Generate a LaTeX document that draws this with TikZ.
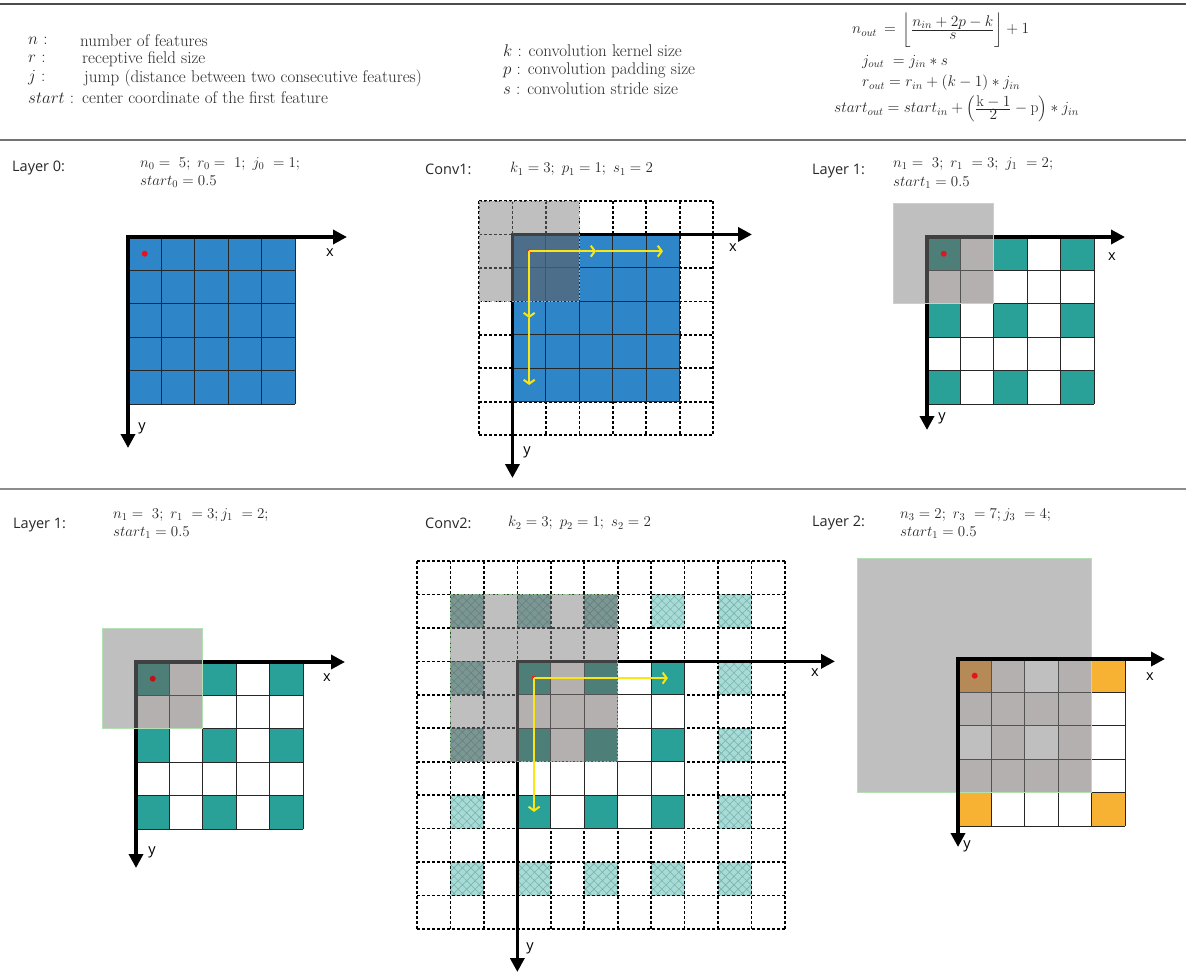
\RequirePackage{fix-cm}
\documentclass[tikz,border=0pt]{standalone}
\usepackage{amsmath}
\usepackage{fontspec}
\newfontfamily\osans{Open Sans}
\usetikzlibrary{arrows.meta,patterns.meta}
\definecolor{blueC}{RGB}{46,134,200}
\definecolor{blueU}{RGB}{24,92,152}
\definecolor{tealC}{RGB}{42,161,152}
\definecolor{tealU}{RGB}{26,126,112}
\definecolor{pinkU}{RGB}{234,226,226}
\definecolor{orangeC}{RGB}{247,178,51}
\definecolor{orangeU}{RGB}{238,150,46}
\definecolor{hatchC}{RGB}{168,218,214}
\definecolor{hatchU}{RGB}{116,176,168}
\definecolor{hatchL}{RGB}{120,180,175}
\definecolor{yel}{RGB}{250,230,20}
\definecolor{dotred}{RGB}{228,20,30}
\definecolor{txt}{RGB}{40,40,40}
\definecolor{greenB}{RGB}{180,222,180}
\definecolor{greenD}{RGB}{140,190,140}
\def\cw{33.45}
\newcommand\cfr[2]{\frac{\displaystyle #1}{\displaystyle #2}}
\begin{document}
\begin{tikzpicture}[x=1pt,y=-1pt,
  hdr/.style={inner sep=0pt, anchor=west, text=txt, font=\fontsize{17}{19}\selectfont},
  frm/.style={inner sep=0pt, anchor=west, text=txt, font=\fontsize{15.5}{17}\selectfont},
  par/.style={inner sep=0pt, anchor=west, text=txt, font=\fontsize{15}{17}\selectfont},
  lab/.style={inner sep=0pt, anchor=west, text=txt, font=\osans\fontsize{14.5}{16}\selectfont},
  axlab/.style={inner sep=0pt, text=black, font=\osans\fontsize{14.5}{16}\selectfont},
  axis/.style={line width=3.5pt, line join=miter, {Triangle[length=14pt,width=14pt]}-{Triangle[length=14pt,width=14pt]}},
  cellgrid/.style={line width=1.1pt, black!85},
  dgrid/.style={line width=1.7pt, black, dash pattern=on 3pt off 2pt},
  grayov/.style={fill=black!50, fill opacity=0.5, draw=greenB, line width=1pt},
  grayovd/.style={grayov, draw=greenD, dash pattern=on 2pt off 1.6pt},
  yarrow/.style={yel, line width=2pt, -{Straight Barb[length=4pt,width=11pt]}},
  rule/.style={line width=1.6pt}
]
\fill[white] (0,0) rectangle (1186,974);
\useasboundingbox (0,0) rectangle (1186,974);

% ---------- rules
\draw[rule, black!70] (0,4) -- (1186,4);
\draw[rule, black!55] (0,140) -- (1186,140);
\draw[rule, black!45] (0,489) -- (1186,489);

% ---------- header: definitions
\node[hdr] (hn)  at (28,41) {$n$ :};
\node[hdr] (hnt) at (80,41) {number of features};
\node[hdr] (hr)  at (28,59) {$r$ :};
\node[hdr] (hrt) at (82,59) {receptive field size};
\node[hdr] (hj)  at (28,78) {$j$ :};
\node[hdr] (hjt) at (84,78) {jump (distance between two consecutive features)};
\node[hdr] (hs)  at (28,98) {$start$ :};
\node[hdr] (hst) at (82,98) {center coordinate of the first feature};

\node[hdr] (hk) at (503,51) {$k$ : convolution kernel size};
\node[hdr] (hp) at (503,70) {$p$ : convolution padding size};
\node[hdr] (hss) at (503,89) {$s$ : convolution stride size};

\node[frm] (f1) at (852,30) {$n_{out}\,=\,\left\lfloor\cfr{n_{in}+2p-k}{s}\right\rfloor+1$};
\node[frm] (f2) at (862,62) {$j_{out}\;=j_{in}*s$};
\node[frm] (f3) at (862,83) {$r_{out}=r_{in}+(k-1)*j_{in}$};
\node[frm] (f4) at (834,109) {$start_{out}=start_{in}+\left(\cfr{\mathrm{k}-1}{2}-\mathrm{p}\right)*j_{in}$};

% ---------- panel labels
\node[lab] (L0) at (12,168) {Layer 0:};
\node[par] (L0a) at (140,164) {$n_0 =\ 5;\ r_0 =\ 1;\ j_0\ = 1;$};
\node[par] (L0b) at (140,182) {$start_0 = 0.5$};

\node[lab] (C1) at (425,169) {Conv1:};
\node[par] (C1a) at (510,169) {$k_1 = 3;\ p_1 = 1;\ s_1 = 2$};

\node[lab] (L1) at (812,171) {Layer 1:};
\node[par] (L1a) at (893,164) {$n_1 =\ 3;\ r_1\ = 3;\ j_1\ = 2;$};
\node[par] (L1b) at (893,183) {$start_1 = 0.5$};

\node[lab] (L1x) at (13,525) {Layer 1:};
\node[par] (L1xa) at (113,515) {$n_1 =\ 3;\ r_1\ = 3; j_1\ = 2;$};
\node[par] (L1xb) at (113,533) {$start_1 = 0.5$};

\node[lab] (C2) at (425,523) {Conv2:};
\node[par] (C2a) at (508,523) {$k_2 = 3;\ p_2 = 1;\ s_2 = 2$};

\node[lab] (L2) at (812,523) {Layer 2:};
\node[par] (L2a) at (900,515) {$n_3 = 2;\ r_3\ = 7; j_3\ = 4;$};
\node[par] (L2b) at (900,533) {$start_1 = 0.5$};

% ================= Layer 0
\begin{scope}[shift={(128,237)}]
  \fill[blueC] (0,0) rectangle (5*\cw,5*\cw);
  \foreach \i in {0,...,5}{
    \draw[cellgrid] (\i*\cw,0) -- (\i*\cw,5*\cw);
    \draw[cellgrid] (0,\i*\cw) -- (5*\cw,\i*\cw);}
  \draw[axis] (0,211) -- (0,0) -- (219,0);
  \fill[dotred] (0.5*\cw,0.5*\cw) circle[radius=3pt];
\end{scope}
\node[axlab] (x0) at (330,253) {x};
\node[axlab] (y0) at (142,428) {y};

% ================= Conv1
\begin{scope}[shift={(479,201)}]
  \foreach \i in {0,...,7}{
    \draw[dgrid] (\i*\cw,0) -- (\i*\cw,7*\cw);
    \draw[dgrid] (0,\i*\cw) -- (7*\cw,\i*\cw);}
  \fill[blueC] (\cw,\cw) rectangle (6*\cw,6*\cw);
  \fill[blueU] (\cw,\cw) rectangle (3*\cw,3*\cw);
  \foreach \i in {1,...,6}{
    \draw[cellgrid] (\i*\cw,\cw) -- (\i*\cw,6*\cw);
    \draw[cellgrid] (\cw,\i*\cw) -- (6*\cw,\i*\cw);}
  \draw[axis] (\cw,277) -- (\cw,\cw) -- (273,\cw);
  \draw[grayovd] (0,0) rectangle (3*\cw,3*\cw);
  \fill[dotred!80!orange] (1.5*\cw,1.5*\cw) circle[radius=2.5pt];
  \coordinate (c1s) at (1.5*\cw,1.5*\cw);
  \coordinate (c1m) at (3.5*\cw,1.5*\cw);
  \coordinate (c1e) at (5.5*\cw,1.5*\cw);
  \coordinate (c1n) at (1.5*\cw,3.5*\cw);
  \coordinate (c1d) at (1.5*\cw,5.5*\cw);
  \draw[yarrow] (c1s) -- (c1m);
  \draw[yarrow] (c1m) -- (c1e);
  \draw[yarrow] (c1s) -- (c1n);
  \draw[yarrow] (c1n) -- (c1d);
\end{scope}
\node[axlab] (x1) at (733,248) {x};
\node[axlab] (y1) at (527,452) {y};

% ================= Layer 1 (top)
\def\layerone{%
  \foreach \rr in {0,2,4}{\foreach \qq in {0,2,4}{
    \fill[tealC] (\qq*\cw,\rr*\cw) rectangle ++(\cw,\cw);}}
  \fill[tealU] (0,0) rectangle ++(\cw,\cw);
  \fill[pinkU] (\cw,0) rectangle ++(\cw,\cw);
  \fill[pinkU] (0,\cw) rectangle ++(\cw,\cw);
  \fill[pinkU] (\cw,\cw) rectangle ++(\cw,\cw);
  \foreach \i in {0,...,5}{
    \draw[cellgrid] (\i*\cw,0) -- (\i*\cw,5*\cw);
    \draw[cellgrid] (0,\i*\cw) -- (5*\cw,\i*\cw);}
}
\begin{scope}[shift={(927,237)}]
  \layerone
  \draw[axis] (0,193) -- (0,0) -- (198,0);
  \draw[grayov] (-\cw,-\cw) rectangle (2*\cw,2*\cw);
  \fill[dotred] (0.5*\cw,0.5*\cw) circle[radius=3pt];
\end{scope}
\node[axlab] (x2) at (1112,257) {x};
\node[axlab] (y2) at (942,418) {y};

% ================= Layer 1 (bottom)
\begin{scope}[shift={(136,662)}]
  \layerone
  \draw[axis] (0,206) -- (0,0) -- (209,0);
  \draw[grayov] (-\cw,-\cw) rectangle (2*\cw,2*\cw);
  \fill[dotred!85!black] (0.5*\cw,0.5*\cw) circle[radius=3pt];
\end{scope}
\node[axlab] (x3) at (327,678) {x};
\node[axlab] (y3) at (152,852) {y};

% ================= Conv2
\begin{scope}[shift={(417,561)}]
  \foreach \qq/\rr in {7/1,9/1,9/3,9/5,9/7,1/7,1/9,3/9,5/9,7/9,9/9}{
    \fill[hatchC] (\qq*\cw,\rr*\cw) rectangle ++(\cw,\cw);
    \fill[pattern={Hatch[angle=45,distance=6pt,line width=0.6pt]}, pattern color=hatchL] (\qq*\cw,\rr*\cw) rectangle ++(\cw,\cw);}
  \foreach \qq/\rr in {1/1,3/1,5/1,1/3,1/5}{
    \fill[hatchU] (\qq*\cw,\rr*\cw) rectangle ++(\cw,\cw);
    \fill[pattern={Hatch[angle=45,distance=6pt,line width=0.6pt]}, pattern color=hatchL!70!black] (\qq*\cw,\rr*\cw) rectangle ++(\cw,\cw);}
  \foreach \i in {0,...,11}{
    \draw[dgrid] (\i*\cw,0) -- (\i*\cw,11*\cw);
    \draw[dgrid] (0,\i*\cw) -- (11*\cw,\i*\cw);}
  \fill[white] (3*\cw,3*\cw) rectangle (8*\cw,8*\cw);
  \foreach \rr in {3,5,7}{\foreach \qq in {3,5,7}{
    \fill[tealC] (\qq*\cw,\rr*\cw) rectangle ++(\cw,\cw);}}
  \foreach \qq/\rr in {3/3,5/3,3/5,5/5}{
    \fill[tealU] (\qq*\cw,\rr*\cw) rectangle ++(\cw,\cw);}
  \foreach \qq/\rr in {4/3,3/4,4/4,5/4,4/5}{
    \fill[pinkU] (\qq*\cw,\rr*\cw) rectangle ++(\cw,\cw);}
  \foreach \i in {3,...,8}{
    \draw[cellgrid] (\i*\cw,3*\cw) -- (\i*\cw,8*\cw);
    \draw[cellgrid] (3*\cw,\i*\cw) -- (8*\cw,\i*\cw);}
  \draw[axis] (3*\cw,411) -- (3*\cw,3*\cw) -- (418,3*\cw);
  \draw[grayovd] (\cw,\cw) rectangle (6*\cw,6*\cw);
  \fill[dotred!80!orange] (3.5*\cw,3.5*\cw) circle[radius=2.5pt];
  \coordinate (c2s) at (3.5*\cw,3.5*\cw);
  \coordinate (c2e) at (7.5*\cw,3.5*\cw);
  \coordinate (c2d) at (3.5*\cw,7.5*\cw);
  \draw[yarrow] (c2s) -- (c2e);
  \draw[yarrow] (c2s) -- (c2d);
\end{scope}
\node[axlab] (x4) at (815,673) {x};
\node[axlab] (y4) at (530,948) {y};

% ================= Layer 2
\begin{scope}[shift={(958,659)}]
  \fill[orangeU] (0,0) rectangle ++(\cw,\cw);
  \foreach \qq/\rr in {4/0,0/4,4/4}{
    \fill[orangeC] (\qq*\cw,\rr*\cw) rectangle ++(\cw,\cw);}
  \foreach \qq/\rr in {1/0,3/0,0/1,1/1,2/1,3/1,1/2,3/2,0/3,1/3,2/3,3/3}{
    \fill[pinkU] (\qq*\cw,\rr*\cw) rectangle ++(\cw,\cw);}
  \foreach \i in {0,...,5}{
    \draw[cellgrid] (\i*\cw,0) -- (\i*\cw,5*\cw);
    \draw[cellgrid] (0,\i*\cw) -- (5*\cw,\i*\cw);}
  \draw[grayov] (-3*\cw,-3*\cw) rectangle (4*\cw,4*\cw);
  \draw[axis] (0,188) -- (0,0) -- (207,0);
  \fill[dotred] (0.5*\cw,0.5*\cw) circle[radius=3pt];
\end{scope}
\node[axlab] (x5) at (1150,677) {x};
\node[axlab] (y5) at (967,846) {y};
\end{tikzpicture}
\end{document}
